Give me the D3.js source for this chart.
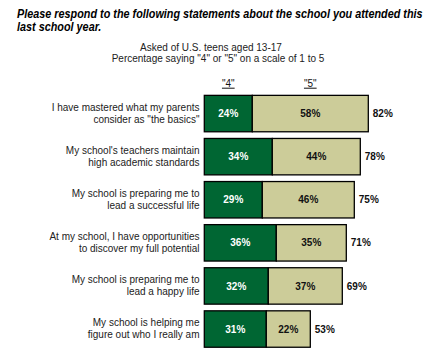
<!DOCTYPE html>
<html>
<head>
<meta charset="utf-8">
<script src="https://cdn.jsdelivr.net/npm/d3@7/dist/d3.min.js"></script>
<style>
  html, body { margin: 0; padding: 0; background: #fff; }
  svg { display: block; font-family: Arial, "Liberation Sans", Helvetica, sans-serif; }
</style>
</head>
<body>
<svg id="chart" width="440" height="350"></svg>
<script>
// Survey statements (two lines each) and the share answering "4" and "5"
const statements = [
  ["I have mastered what my parents", "consider as \"the basics\""],
  ["My school's teachers maintain", "high academic standards"],
  ["My school is preparing me to", "lead a successful life"],
  ["At my school, I have opportunities", "to discover my full potential"],
  ["My school is preparing me to", "lead a happy life"],
  ["My school is helping me", "figure out who I really am"]
];
const share4 = [24, 34, 29, 36, 32, 31];
const share5 = [58, 44, 46, 35, 37, 22];
const totals = [82, 78, 75, 71, 69, 53];
const seriesLabels = ["\"4\"", "\"5\""];
const titleLines = [
  "Please respond to the following statements about the school you attended this",
  "last school year."
];

const svg = d3.select("#chart");

// Title: condensed horizontally so the first line spans the chart width
const titleG = svg.append("g")
  .attr("font-weight", "bold").attr("font-style", "italic")
  .attr("font-size", 12.5).attr("fill", "#000");
const titleText = titleG.selectAll("text").data(titleLines).join("text")
  .attr("x", 0).attr("y", (d, i) => i * 13.5)
  .text(d => d);
const natural = titleText.node().getComputedTextLength();
const sx = Math.min(1, 406 / natural);
titleG.attr("transform", `translate(17,18) scale(${sx},1)`);

// Subtitle
const sub = svg.append("g").attr("font-size", 10).attr("fill", "#222")
  .attr("text-anchor", "middle");
sub.append("text").attr("x", 211).attr("y", 50.7).text("Asked of U.S. teens aged 13-17");
sub.append("text").attr("x", 218).attr("y", 62.3).text("Percentage saying \"4\" or \"5\" on a scale of 1 to 5");

// Scales
const x = d3.scaleLinear().domain([0, 100]).range([204.3, 404.3]);
const y = d3.scaleBand().domain(d3.range(statements.length))
  .range([92, 350.6]).paddingInner(0.155).paddingOuter(0.078);

const rows = svg.append("g").selectAll("g")
  .data(statements.map((s, i) => ({ s, a: share4[i], b: share5[i], t: totals[i], i })))
  .join("g")
  .attr("transform", d => `translate(0,${y(d.i)})`);

const h = y.bandwidth();

// "4" segment
rows.append("rect")
  .attr("x", x(0)).attr("y", 0)
  .attr("width", d => x(d.a) - x(0)).attr("height", h)
  .attr("fill", "#006633").attr("stroke", "#000").attr("stroke-width", 1.3);

// "5" segment
rows.append("rect")
  .attr("x", d => x(d.a)).attr("y", 0)
  .attr("width", d => x(d.a + d.b) - x(d.a)).attr("height", h)
  .attr("fill", "#CCCC99").attr("stroke", "#000").attr("stroke-width", 1.3);

// Segment value labels
rows.append("text")
  .attr("x", d => (x(0) + x(d.a)) / 2).attr("y", h / 2 + 3.6)
  .attr("text-anchor", "middle").attr("font-size", 10).attr("font-weight", "bold")
  .attr("fill", "#fff").text(d => d.a + "%");
rows.append("text")
  .attr("x", d => (x(d.a) + x(d.a + d.b)) / 2).attr("y", h / 2 + 3.6)
  .attr("text-anchor", "middle").attr("font-size", 10).attr("font-weight", "bold")
  .attr("fill", "#111").text(d => d.b + "%");

// Totals at the end of each bar
rows.append("text")
  .attr("x", d => x(d.t) + 4.5).attr("y", h / 2 + 3.6)
  .attr("font-size", 10).attr("font-weight", "bold")
  .attr("fill", "#111").text(d => d.t + "%");

// Statement labels
const lbl = rows.append("text")
  .attr("text-anchor", "end").attr("font-size", 10).attr("fill", "#222");
lbl.append("tspan").attr("x", 199.5).attr("y", h / 2 - 2.6).text(d => d.s[0]);
lbl.append("tspan").attr("x", 199.5).attr("y", h / 2 + 9).text(d => d.s[1]);

// Column headers, centred over the first row's segments
const hdrX = [(x(0) + x(share4[0])) / 2, (x(share4[0]) + x(share4[0] + share5[0])) / 2];
svg.append("g").selectAll("text").data(seriesLabels).join("text")
  .attr("x", (d, i) => hdrX[i]).attr("y", 86.7)
  .attr("text-anchor", "middle").attr("font-size", 10).attr("fill", "#111")
  .attr("text-decoration", "underline")
  .text(d => d);
</script>
</body>
</html>
